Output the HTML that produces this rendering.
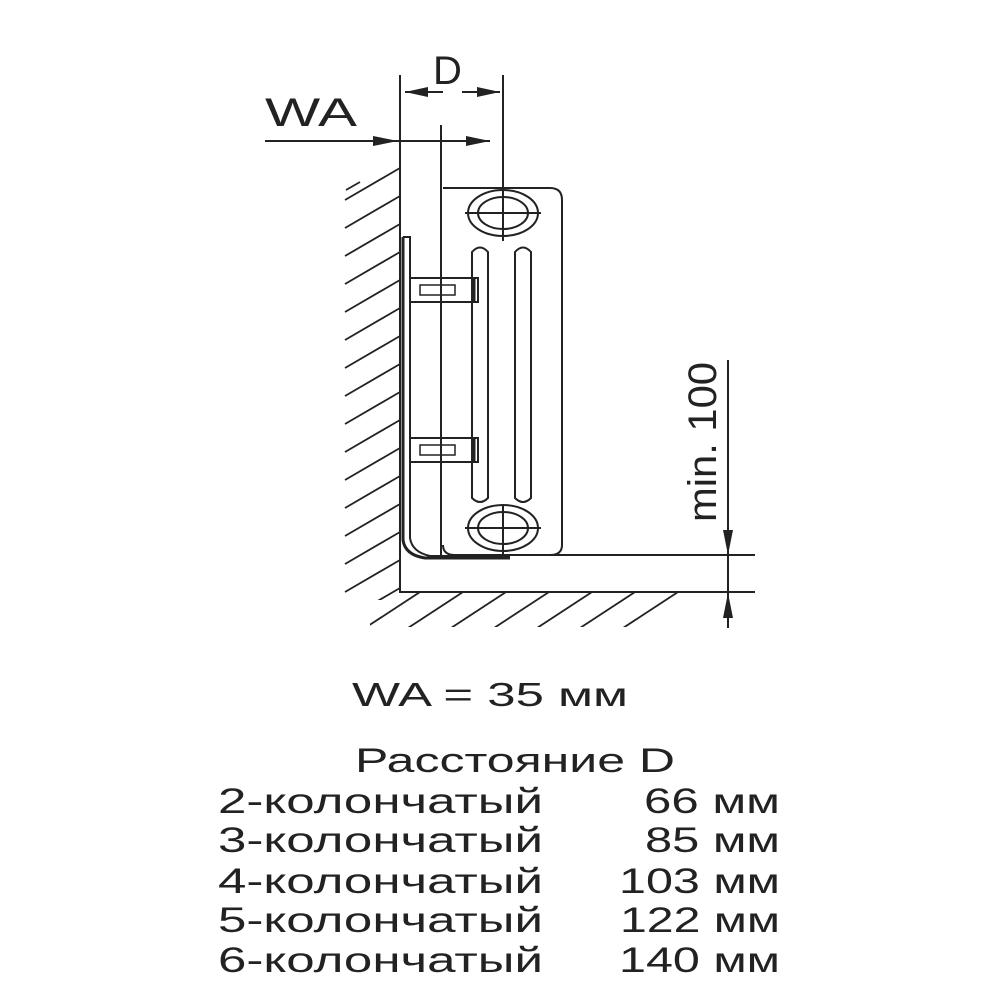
<!DOCTYPE html>
<html><head><meta charset="utf-8"><style>html,body{margin:0;padding:0;background:#fff}svg{display:block}</style></head>
<body>
<svg width="1000" height="1000" viewBox="0 0 1000 1000" xmlns="http://www.w3.org/2000/svg" font-family="Liberation Sans, sans-serif" fill="#222">
<defs>
<clipPath id="wallc"><rect x="343" y="150" width="57" height="450"/></clipPath>
<clipPath id="floorc"><rect x="370" y="593" width="320" height="34"/></clipPath>
</defs>
<g stroke="#222" stroke-width="2" fill="none">
<g clip-path="url(#wallc)" stroke-width="1.8">
<path d="M345 200 L400 168 M345 228 L400 196 M345 256 L400 224 M345 284 L400 252 M345 312 L400 280 M345 340 L400 308 M345 368 L400 336 M345 396 L400 364 M345 424 L400 392 M345 452 L400 420 M345 480 L400 448 M345 508 L400 476 M345 536 L400 504 M345 564 L400 532 M345 592 L400 560 M345 620 L400 588"/>
</g>
<path d="M346 190 L360 182" stroke-width="1.8"/>
<g clip-path="url(#floorc)" stroke-width="1.8">
<path d="M365 628 L420 592 M408 628 L463 592 M451 628 L506 592 M494 628 L549 592 M537 628 L592 592 M580 628 L635 592 M623 628 L678 592"/>
</g>
<path d="M400 75 V592 H755"/>
<path d="M510 555 H755"/>
<path d="M503 75 V240"/>
<path d="M405 92 H443 M462 92 H500"/>
<path d="M265 141 H490"/>
<path d="M441 125 V555"/>
<path d="M443 188 H550 Q562 188 562 200 V545 Q562 555 550 555 H455 Q443 555 443 545" />
<ellipse cx="503" cy="213" rx="35" ry="23"/>
<ellipse cx="503" cy="213" rx="25" ry="16"/>
<path d="M465 213 H541 M503 190 V241"/>
<ellipse cx="503" cy="528" rx="35" ry="23"/>
<ellipse cx="503" cy="528" rx="25" ry="16"/>
<path d="M465 528 H541 M503 505 V555"/>
<path d="M472 498 V252 Q480 243 488 252 V498 Q480 506 472 498Z"/>
<path d="M515 498 V252 Q523 243 531 252 V498 Q523 506 515 498Z"/>
<path d="M403 237 H410 V538 Q412 552 430 556 H510"/>
<path d="M403 237 V540 Q405 555 425 558 H510" stroke-width="3"/>
<rect x="410" y="278" width="68" height="24"/>
<rect x="410" y="438" width="68" height="24"/>
<rect x="420" y="285" width="35" height="10" stroke-width="1.5"/>
<rect x="420" y="445" width="35" height="10" stroke-width="1.5"/>
<path d="M474 278 V302 M474 438 V462" stroke-width="3"/>
<path d="M728 360 V628"/>
</g>
<path d="M405 92 L428 87 L428 97Z"/>
<path d="M500 92 L477 87 L477 97Z"/>
<path d="M398 141 L373 136 L373 146Z"/>
<path d="M490 141 L466 136 L466 146Z"/>
<path d="M728 555 L723 530 L733 530Z"/>
<path d="M728 593 L723 618 L733 618Z"/>
<text x="265" y="126" font-size="40" textLength="92" lengthAdjust="spacingAndGlyphs">WA</text>
<text x="433" y="84" font-size="40">D</text>
<text transform="translate(716,522) rotate(-90)" font-size="40" textLength="160" lengthAdjust="spacingAndGlyphs">min. 100</text>
<text x="352" y="706" font-size="33" textLength="276" lengthAdjust="spacingAndGlyphs">WA = 35 мм</text>
<text x="355" y="772" font-size="34" textLength="320" lengthAdjust="spacingAndGlyphs">Расстояние D</text>
<g font-size="35">
<text x="218" y="813" textLength="325" lengthAdjust="spacingAndGlyphs">2-колончатый</text>
<text x="218" y="852" textLength="325" lengthAdjust="spacingAndGlyphs">3-колончатый</text>
<text x="218" y="893" textLength="325" lengthAdjust="spacingAndGlyphs">4-колончатый</text>
<text x="218" y="932" textLength="325" lengthAdjust="spacingAndGlyphs">5-колончатый</text>
<text x="218" y="972" textLength="325" lengthAdjust="spacingAndGlyphs">6-колончатый</text>
<text x="644" y="813" textLength="136" lengthAdjust="spacingAndGlyphs">66 мм</text>
<text x="645" y="852" textLength="135" lengthAdjust="spacingAndGlyphs">85 мм</text>
<text x="619" y="893" textLength="161" lengthAdjust="spacingAndGlyphs">103 мм</text>
<text x="620" y="932" textLength="160" lengthAdjust="spacingAndGlyphs">122 мм</text>
<text x="619" y="972" textLength="161" lengthAdjust="spacingAndGlyphs">140 мм</text>
</g>
</svg>
</body></html>
